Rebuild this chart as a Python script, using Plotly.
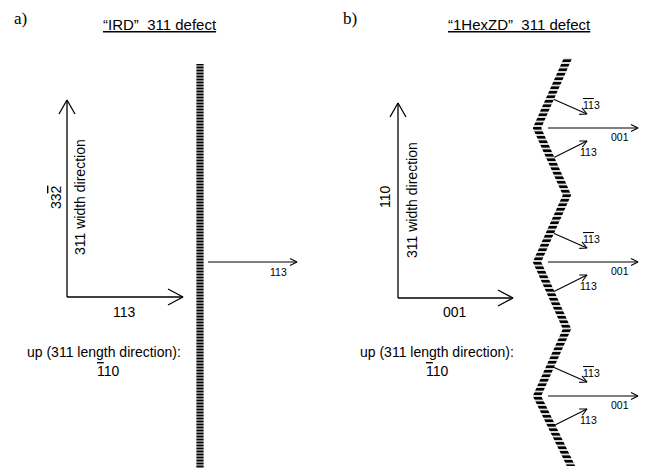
import plotly.graph_objects as go
import numpy as np

W, H = 658, 468

# ---- data (pixel-space diagram coordinates) ----
panel_labels = ["a)", "b)"]
panel_label_x = [20, 350]
SP = "\u00a0"
titles = ["“IRD”" + SP * 2 + "311 defect", "“1HexZD”" + SP * 2 + "311 defect"]
title_x = [160, 519]

axis_origin_x = [67, 398]
axis_origin_y = [297, 298]
axis_up_tip_y = [100, 103]
axis_right_tip_x = [183, 513]
axis_right_labels = ["113", "001"]
axis_up_labels = ["33<span style='text-decoration:overline'>2</span>", "110"]

# IRD defect (vertical)
ird_x = 200
ird_y = [64, 468]
ird_arrow_x = [208, 297]
ird_arrow_y = 262
ird_arrow_label = "113"

# 1HexZD defect (zigzag)
zig_x = [568, 537, 567, 537, 567, 537, 571]
zig_y = [58, 128, 195, 262, 329, 396, 466]
zig_left_y = [128, 262, 396]
zig_labels = ["<span style='text-decoration:overline'>11</span>3", "001", "113"]

fig = go.Figure()

def arrow_path(x0, y0, x1, y1, hl, hw):
    d = np.array([x1 - x0, y1 - y0], float)
    d /= np.hypot(*d)
    n = np.array([-d[1], d[0]])
    b = np.array([x1, y1]) - d * hl
    xs = [x0, x1, None, b[0] + n[0] * hw, x1, b[0] - n[0] * hw, None]
    ys = [y0, y1, None, b[1] + n[1] * hw, y1, b[1] - n[1] * hw, None]
    return xs, ys

# big coordinate axes
bx, by = [], []
for i in range(2):
    xs, ys = arrow_path(axis_origin_x[i], axis_origin_y[i], axis_origin_x[i], axis_up_tip_y[i], 14, 8)
    bx += xs; by += ys
    xs, ys = arrow_path(axis_origin_x[i], axis_origin_y[i], axis_right_tip_x[i], axis_origin_y[i], 15, 8)
    bx += xs; by += ys
fig.add_trace(go.Scatter(x=bx, y=by, mode="lines", line=dict(color="black", width=1.3), hoverinfo="skip"))

# small arrows
sx, sy = [], []
xs, ys = arrow_path(ird_arrow_x[0], ird_arrow_y, ird_arrow_x[1], ird_arrow_y, 7, 3.5)
sx += xs; sy += ys
for yv in zig_left_y:
    for (x0, dy0, x1, dy1) in [(553, -29, 587, -14), (548, 0, 638, 0), (553, 30, 587, 13)]:
        xs, ys = arrow_path(x0, yv + dy0, x1, yv + dy1, 7, 3.5)
        sx += xs; sy += ys
fig.add_trace(go.Scatter(x=sx, y=sy, mode="lines", line=dict(color="black", width=1.1), hoverinfo="skip"))

# hatched defects
hw_ird = 3.6
fig.add_trace(go.Scatter(
    x=[ird_x - hw_ird, ird_x + hw_ird, ird_x + hw_ird, ird_x - hw_ird, ird_x - hw_ird],
    y=[ird_y[0], ird_y[0], ird_y[1], ird_y[1], ird_y[0]],
    mode="lines", fill="toself", line=dict(width=0, color="rgba(0,0,0,0)"),
    fillcolor="white",
    fillpattern=dict(shape="-", size=3, solidity=0.68, fgcolor="black", bgcolor="white", fgopacity=1),
    hoverinfo="skip"))

hw_zig = 4.2
zx = [x - hw_zig for x in zig_x] + [x + hw_zig for x in zig_x[::-1]] + [zig_x[0] - hw_zig]
zy = list(zig_y) + list(zig_y[::-1]) + [zig_y[0]]
fig.add_trace(go.Scatter(
    x=zx, y=zy, mode="lines", fill="toself", line=dict(width=0, color="rgba(0,0,0,0)"),
    fillcolor="white",
    fillpattern=dict(shape="-", size=4.5, solidity=0.65, fgcolor="black", bgcolor="white", fgopacity=1),
    hoverinfo="skip"))

ann = []
SANS = "Arial, Liberation Sans, sans-serif"
SERIF = "Times New Roman, Liberation Serif, serif"

def txt(x, y, t, size=14, angle=0, family=SANS):
    ann.append(dict(x=x, y=y, xref="x", yref="y", text=t, showarrow=False,
                    font=dict(family=family, size=size, color="black"),
                    textangle=angle, xanchor="center", yanchor="middle"))

for i in range(2):
    txt(panel_label_x[i], 18, panel_labels[i], size=17, family=SERIF)
    txt(title_x[i], 24, "<u>" + titles[i] + "</u>", size=15)

txt(124, 312, axis_right_labels[0], 14)
txt(455, 312, axis_right_labels[1], 14)
txt(56, 197, axis_up_labels[0], 14, angle=-90)
txt(385, 197, axis_up_labels[1], 14, angle=-90)
txt(80, 197, "311 width direction", 14, angle=-90)
txt(412, 200, "311 width direction", 14, angle=-90)
txt(104, 352, "up (311 length direction):", 14)
txt(437, 352, "up (311 length direction):", 14)
txt(108, 371, "<span style='text-decoration:overline'>1</span>10", 14)
txt(437, 371, "<span style='text-decoration:overline'>1</span>10", 14)

txt(278, 272, ird_arrow_label, 10.5)
for yv in zig_left_y:
    txt(591, yv - 23, zig_labels[0], 10.5)
    txt(620, yv + 9, zig_labels[1], 10.5)
    txt(588, yv + 24, zig_labels[2], 10.5)

fig.update_layout(
    width=W, height=H, margin=dict(l=0, r=0, t=0, b=0),
    paper_bgcolor="white", plot_bgcolor="white", showlegend=False,
    xaxis=dict(range=[0, W], visible=False, fixedrange=True),
    yaxis=dict(range=[H, 0], visible=False, fixedrange=True),
    annotations=ann,
)
fig.write_html("out.html")
